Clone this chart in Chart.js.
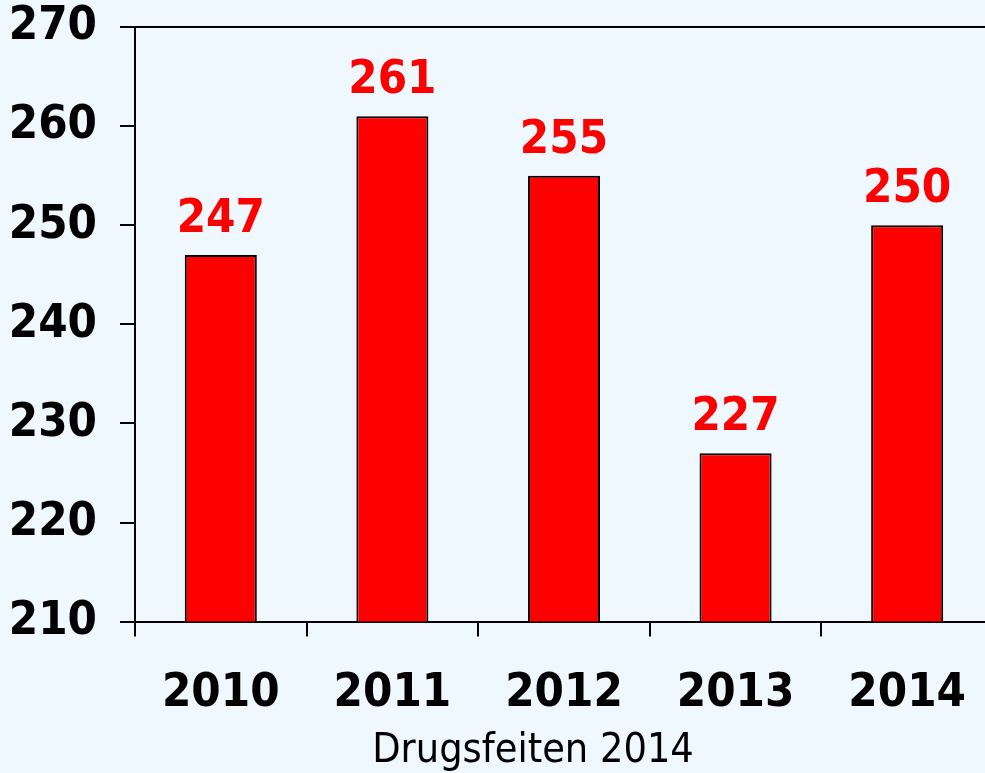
<html><head><meta charset="utf-8">
<script src="https://cdn.jsdelivr.net/npm/chart.js@4.4.0/dist/chart.umd.min.js"></script>
<style>
 body{margin:0;background:#f0f8ff;overflow:hidden;}
 #wrap{position:relative;width:995px;height:773px;}
 #box{position:absolute;left:0;top:-24px;width:995px;height:775px;}
 #caption{position:absolute;left:0;width:1066px;top:725px;line-height:47px;text-align:center;
   font-family:'DejaVu Sans Condensed','DejaVu Sans',sans-serif;font-size:41px;color:#000;}
</style>
</head>
<body>
<div id="wrap">
  <div id="box"><canvas id="myChart"></canvas></div>
  <div id="caption">Drugsfeiten 2014</div>
</div>
<script>
var years = ['2010', '2011', '2012', '2013', '2014'];
var counts = [247, 261, 255, 227, 250];
var yTicks = [210, 220, 230, 240, 250, 260, 270];

var FONT = "'DejaVu Sans Condensed', 'DejaVu Sans', sans-serif";

// values above the bars
var valueLabels = {
  id: 'valueLabels',
  afterDatasetsDraw: function(chart) {
    var ctx = chart.ctx;
    var meta = chart.getDatasetMeta(0);
    ctx.save();
    ctx.font = 'bold 47px ' + FONT;
    ctx.fillStyle = '#ff0000';
    ctx.textAlign = 'center';
    ctx.textBaseline = 'alphabetic';
    meta.data.forEach(function(bar, i) {
      ctx.fillText(String(counts[i]), bar.x, bar.y - 23);
    });
    ctx.restore();
  }
};

var ctx = document.getElementById('myChart');
var myChart = new Chart(ctx, {
  type: 'bar',
  data: {
    labels: years,
    datasets: [{
      data: counts,
      backgroundColor: '#ff0000',
      borderColor: '#000000',
      borderWidth: 2,
      barPercentage: 0.42,
      categoryPercentage: 1
    }]
  },
  options: {
    responsive: true,
    maintainAspectRatio: false,
    animation: false,
    layout: { padding: { top: 0, left: 0, right: 0, bottom: 0 } },
    plugins: { legend: { display: false }, tooltip: { enabled: false } },
    scales: {
      x: {
        grid: {
          offset: true,
          drawOnChartArea: false,
          color: '#000',
          lineWidth: 2,
          tickLength: 15
        },
        border: { display: true, color: '#000', width: 2 },
        ticks: {
          color: '#000',
          padding: 29,
          font: { family: FONT, size: 47, weight: 'bold' }
        }
      },
      y: {
        min: yTicks[0],
        max: yTicks[yTicks.length - 1],
        afterBuildTicks: function(scale) {
          scale.ticks = yTicks.map(function(v) { return { value: v }; });
        },
        afterFit: function(scale) { scale.width = 135; },
        grid: {
          color: function(c) { return c.tick && c.tick.value === 270 ? '#000' : 'rgba(0,0,0,0)'; },
          tickColor: '#000',
          lineWidth: 2,
          tickLength: 15
        },
        border: { display: true, color: '#000', width: 2 },
        ticks: {
          color: '#000',
          padding: 23,
          font: { family: FONT, size: 47, weight: 'bold' }
        }
      }
    }
  },
  plugins: [valueLabels]
});
</script>
</body></html>
